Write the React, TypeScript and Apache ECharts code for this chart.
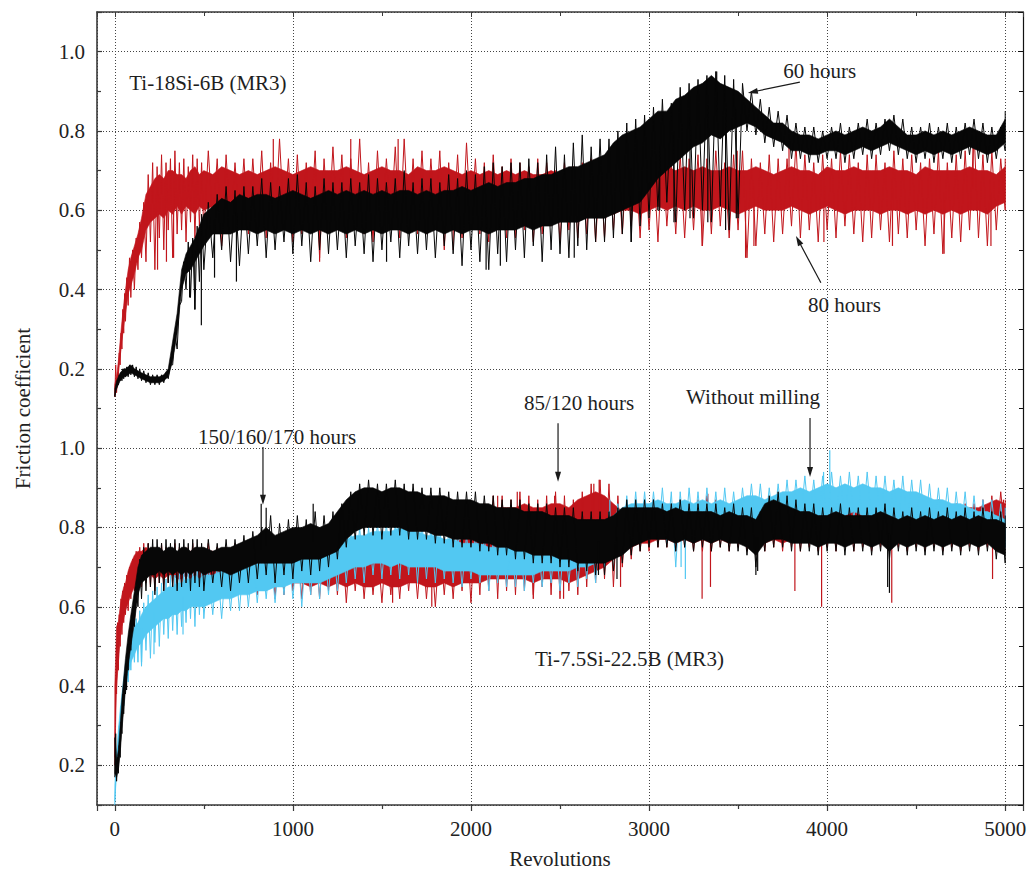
import React, { useEffect, useRef } from "react";
import * as echarts from "echarts";

// ---- sampling positions (revolutions) shared by every trace ----
const revs = [
  0, 10, 20, 30, 40, 50, 60, 75, 90, 110,
  130, 150, 175, 200, 225, 250, 275, 300, 325, 350,
  375, 400, 425, 450, 475, 500, 550, 600, 650, 700,
  750, 800, 850, 900, 950, 1000, 1050, 1100, 1150, 1200,
  1250, 1300, 1350, 1400, 1450, 1500, 1550, 1600, 1650, 1700,
  1750, 1800, 1850, 1900, 1950, 2000, 2050, 2100, 2150, 2200,
  2250, 2300, 2350, 2400, 2450, 2500, 2550, 2600, 2650, 2700,
  2750, 2800, 2850, 2900, 2950, 3000, 3050, 3100, 3150, 3200,
  3250, 3300, 3350, 3400, 3450, 3500, 3550, 3600, 3650, 3700,
  3750, 3800, 3850, 3900, 3950, 4000, 4050, 4100, 4150, 4200,
  4250, 4300, 4350, 4400, 4450, 4500, 4550, 4600, 4650, 4700,
  4750, 4800, 4850, 4900, 4950, 5000,
];

// ===== upper panel: Ti-18Si-6B (MR3) =====
// 80 hours (red): dense core (Low/High) and tips of the noise (Min/Max)
const topRedLow = [
  0.13, 0.15, 0.19, 0.23, 0.27, 0.31, 0.34, 0.39, 0.41, 0.44,
  0.48, 0.50, 0.55, 0.57, 0.58, 0.59, 0.58, 0.60, 0.59, 0.61,
  0.59, 0.61, 0.60, 0.59, 0.61, 0.60, 0.61, 0.59, 0.60, 0.60,
  0.60, 0.59, 0.61, 0.60, 0.59, 0.60, 0.61, 0.60, 0.59, 0.60,
  0.60, 0.59, 0.60, 0.61, 0.59, 0.60, 0.60, 0.59, 0.61, 0.60,
  0.59, 0.60, 0.60, 0.59, 0.61, 0.60, 0.59, 0.60, 0.60, 0.59,
  0.59, 0.60, 0.59, 0.60, 0.59, 0.60, 0.59, 0.60, 0.59, 0.60,
  0.59, 0.59, 0.60, 0.60, 0.59, 0.60, 0.61, 0.60, 0.61, 0.60,
  0.61, 0.60, 0.60, 0.61, 0.60, 0.59, 0.60, 0.61, 0.60, 0.60,
  0.60, 0.61, 0.60, 0.59, 0.60, 0.61, 0.60, 0.59, 0.60, 0.60,
  0.60, 0.59, 0.60, 0.60, 0.59, 0.60, 0.59, 0.60, 0.59, 0.60,
  0.59, 0.60, 0.60, 0.59, 0.61, 0.62,
];
const topRedHigh = [
  0.16, 0.18, 0.22, 0.27, 0.32, 0.36, 0.40, 0.45, 0.48, 0.51,
  0.54, 0.58, 0.64, 0.66, 0.68, 0.69, 0.68, 0.70, 0.70, 0.69,
  0.69, 0.68, 0.70, 0.71, 0.69, 0.70, 0.69, 0.71, 0.70, 0.69,
  0.70, 0.69, 0.70, 0.71, 0.70, 0.69, 0.70, 0.71, 0.70, 0.70,
  0.70, 0.71, 0.70, 0.69, 0.70, 0.71, 0.70, 0.70, 0.69, 0.71,
  0.70, 0.70, 0.71, 0.70, 0.69, 0.70, 0.69, 0.70, 0.69, 0.70,
  0.69, 0.70, 0.69, 0.69, 0.70, 0.69, 0.70, 0.69, 0.70, 0.69,
  0.69, 0.70, 0.70, 0.69, 0.70, 0.71, 0.70, 0.71, 0.70, 0.71,
  0.70, 0.71, 0.70, 0.70, 0.71, 0.70, 0.70, 0.71, 0.70, 0.69,
  0.70, 0.71, 0.70, 0.70, 0.69, 0.71, 0.70, 0.70, 0.71, 0.70,
  0.70, 0.70, 0.71, 0.70, 0.70, 0.69, 0.71, 0.70, 0.70, 0.70,
  0.70, 0.71, 0.70, 0.70, 0.69, 0.71,
];
const topRedMin = [
  0.13, 0.14, 0.18, 0.21, 0.25, 0.29, 0.32, 0.36, 0.38, 0.40,
  0.45, 0.48, 0.47, 0.52, 0.45, 0.53, 0.50, 0.55, 0.48, 0.54,
  0.55, 0.52, 0.57, 0.53, 0.56, 0.54, 0.57, 0.51, 0.55, 0.56,
  0.54, 0.56, 0.53, 0.55, 0.57, 0.52, 0.54, 0.56, 0.48, 0.55,
  0.55, 0.53, 0.56, 0.54, 0.52, 0.55, 0.57, 0.53, 0.55, 0.54,
  0.54, 0.56, 0.50, 0.55, 0.53, 0.56, 0.54, 0.52, 0.55, 0.53,
  0.53, 0.55, 0.52, 0.54, 0.56, 0.52, 0.55, 0.53, 0.54, 0.52,
  0.53, 0.55, 0.54, 0.56, 0.53, 0.55, 0.52, 0.56, 0.54, 0.53,
  0.55, 0.51, 0.54, 0.56, 0.53, 0.55, 0.48, 0.51, 0.54, 0.52,
  0.54, 0.56, 0.53, 0.55, 0.52, 0.55, 0.53, 0.56, 0.54, 0.52,
  0.53, 0.55, 0.52, 0.54, 0.53, 0.55, 0.51, 0.54, 0.49, 0.53,
  0.52, 0.55, 0.53, 0.51, 0.55, 0.60,
];
const topRedMax = [
  0.21, 0.19, 0.24, 0.29, 0.35, 0.39, 0.43, 0.48, 0.50, 0.53,
  0.57, 0.62, 0.69, 0.72, 0.71, 0.74, 0.72, 0.73, 0.75, 0.72,
  0.73, 0.71, 0.74, 0.73, 0.72, 0.75, 0.73, 0.74, 0.72, 0.73,
  0.73, 0.75, 0.72, 0.78, 0.73, 0.74, 0.72, 0.75, 0.73, 0.76,
  0.74, 0.73, 0.78, 0.72, 0.75, 0.73, 0.76, 0.78, 0.73, 0.75,
  0.73, 0.75, 0.72, 0.74, 0.77, 0.73, 0.72, 0.74, 0.71, 0.73,
  0.72, 0.71, 0.73, 0.72, 0.70, 0.72, 0.71, 0.72, 0.73, 0.71,
  0.72, 0.71, 0.73, 0.72, 0.74, 0.73, 0.75, 0.72, 0.74, 0.73,
  0.74, 0.73, 0.75, 0.72, 0.74, 0.75, 0.73, 0.72, 0.74, 0.73,
  0.73, 0.77, 0.74, 0.72, 0.74, 0.73, 0.75, 0.74, 0.72, 0.74,
  0.74, 0.72, 0.75, 0.73, 0.74, 0.72, 0.73, 0.75, 0.72, 0.74,
  0.75, 0.80, 0.74, 0.75, 0.73, 0.73,
];
const topRedSpikes = [
  [240, 0.45], [290, 0.47], [330, 0.48], [890, 0.78], [1150, 0.47], [1325, 0.78],
  [1591, 0.78], [1900, 0.5], [3298, 0.51], [3495, 0.75], [3542, 0.48], [3589, 0.51],
  [3786, 0.77], [3982, 0.52], [4367, 0.51], [4657, 0.49], [4820, 0.8], [4920, 0.51],
];

// 60 hours (black)
const topBlackLow = [
  0.13, 0.15, 0.16, 0.17, 0.175, 0.18, 0.18, 0.185, 0.19, 0.185,
  0.18, 0.175, 0.17, 0.165, 0.165, 0.165, 0.17, 0.18, 0.22, 0.29,
  0.40, 0.44, 0.45, 0.47, 0.49, 0.51, 0.54, 0.54, 0.54, 0.55,
  0.55, 0.54, 0.55, 0.54, 0.55, 0.54, 0.55, 0.54, 0.55, 0.54,
  0.55, 0.54, 0.55, 0.54, 0.55, 0.54, 0.55, 0.55, 0.54, 0.55,
  0.54, 0.55, 0.54, 0.55, 0.54, 0.55, 0.55, 0.54, 0.55, 0.55,
  0.55, 0.56, 0.55, 0.56, 0.56, 0.57, 0.57, 0.57, 0.58, 0.58,
  0.58, 0.59, 0.60, 0.61, 0.62, 0.65, 0.68, 0.70, 0.72, 0.74,
  0.76, 0.77, 0.79, 0.78, 0.80, 0.81, 0.82, 0.81, 0.79, 0.78,
  0.77, 0.75, 0.75, 0.74, 0.74, 0.75, 0.75, 0.74, 0.75, 0.76,
  0.75, 0.76, 0.77, 0.76, 0.75, 0.74, 0.75, 0.74, 0.75, 0.74,
  0.75, 0.76, 0.75, 0.74, 0.75, 0.77,
];
const topBlackHigh = [
  0.15, 0.17, 0.18, 0.19, 0.195, 0.20, 0.20, 0.205, 0.21, 0.20,
  0.195, 0.19, 0.185, 0.18, 0.18, 0.18, 0.185, 0.20, 0.27, 0.34,
  0.45, 0.49, 0.51, 0.53, 0.56, 0.59, 0.61, 0.63, 0.62, 0.64,
  0.63, 0.64, 0.64, 0.63, 0.64, 0.65, 0.64, 0.63, 0.64, 0.65,
  0.64, 0.65, 0.64, 0.65, 0.64, 0.65, 0.64, 0.65, 0.65, 0.64,
  0.65, 0.64, 0.65, 0.65, 0.66, 0.65, 0.66, 0.67, 0.66, 0.67,
  0.67, 0.68, 0.68, 0.69, 0.69, 0.70, 0.71, 0.71, 0.72, 0.73,
  0.74, 0.77, 0.79, 0.80, 0.81, 0.83, 0.85, 0.85, 0.88, 0.89,
  0.91, 0.92, 0.94, 0.92, 0.91, 0.90, 0.88, 0.86, 0.84, 0.82,
  0.82, 0.80, 0.79, 0.79, 0.78, 0.79, 0.80, 0.79, 0.80, 0.81,
  0.80, 0.81, 0.83, 0.81, 0.79, 0.79, 0.80, 0.79, 0.80, 0.79,
  0.80, 0.81, 0.80, 0.79, 0.79, 0.83,
];
const topBlackMin = [
  0.13, 0.15, 0.16, 0.17, 0.17, 0.175, 0.18, 0.18, 0.185, 0.18,
  0.175, 0.17, 0.165, 0.16, 0.16, 0.16, 0.165, 0.175, 0.21, 0.25,
  0.37, 0.40, 0.38, 0.35, 0.42, 0.45, 0.48, 0.50, 0.47, 0.46,
  0.49, 0.51, 0.48, 0.50, 0.52, 0.49, 0.51, 0.47, 0.50, 0.49,
  0.50, 0.48, 0.51, 0.49, 0.47, 0.50, 0.52, 0.48, 0.51, 0.49,
  0.50, 0.48, 0.51, 0.49, 0.46, 0.50, 0.47, 0.45, 0.49, 0.47,
  0.50, 0.48, 0.51, 0.47, 0.50, 0.49, 0.48, 0.51, 0.50, 0.52,
  0.52, 0.53, 0.54, 0.52, 0.56, 0.58, 0.60, 0.62, 0.57, 0.60,
  0.58, 0.60, 0.57, 0.61, 0.55, 0.58, 0.80, 0.79, 0.77, 0.76,
  0.75, 0.73, 0.73, 0.72, 0.72, 0.73, 0.73, 0.72, 0.73, 0.74,
  0.73, 0.74, 0.75, 0.74, 0.73, 0.72, 0.73, 0.72, 0.73, 0.72,
  0.73, 0.74, 0.73, 0.72, 0.73, 0.75,
];
const topBlackMax = [
  0.15, 0.17, 0.185, 0.19, 0.20, 0.20, 0.205, 0.21, 0.21, 0.205,
  0.20, 0.195, 0.19, 0.185, 0.185, 0.185, 0.19, 0.21, 0.29, 0.36,
  0.47, 0.52, 0.53, 0.56, 0.59, 0.62, 0.64, 0.66, 0.65, 0.66,
  0.66, 0.68, 0.67, 0.66, 0.68, 0.69, 0.67, 0.66, 0.68, 0.67,
  0.67, 0.68, 0.67, 0.69, 0.68, 0.67, 0.68, 0.70, 0.67, 0.68,
  0.68, 0.67, 0.69, 0.68, 0.70, 0.69, 0.71, 0.72, 0.71, 0.72,
  0.72, 0.73, 0.72, 0.74, 0.76, 0.74, 0.77, 0.79, 0.76, 0.78,
  0.78, 0.80, 0.82, 0.83, 0.84, 0.86, 0.88, 0.87, 0.91, 0.92,
  0.93, 0.94, 0.95, 0.94, 0.93, 0.92, 0.90, 0.88, 0.86, 0.85,
  0.84, 0.82, 0.81, 0.81, 0.80, 0.81, 0.82, 0.81, 0.82, 0.83,
  0.82, 0.83, 0.84, 0.83, 0.81, 0.81, 0.82, 0.81, 0.82, 0.81,
  0.82, 0.83, 0.82, 0.81, 0.81, 0.85,
];
const topBlackSpikes = [
  [420, 0.38], [449, 0.35], [486, 0.31], [560, 0.43], [683, 0.42], [1526, 0.47],
  [2085, 0.45], [2165, 0.46], [2580, 0.48], [2900, 0.52], [3060, 0.6], [3140, 0.57],
  [3230, 0.58], [3330, 0.57], [3380, 0.95], [3430, 0.55], [3490, 0.58],
];

// ===== lower panel: Ti-7.5Si-22.5B (MR3) =====
// 85/120 hours (red)
const botRedLow = [
  0.22, 0.40, 0.46, 0.52, 0.55, 0.57, 0.59, 0.61, 0.63, 0.65,
  0.66, 0.67, 0.68, 0.68, 0.67, 0.68, 0.67, 0.68, 0.68, 0.67,
  0.67, 0.68, 0.67, 0.68, 0.67, 0.68, 0.67, 0.68, 0.67, 0.68,
  0.67, 0.67, 0.66, 0.66, 0.66, 0.66, 0.66, 0.65, 0.66, 0.65,
  0.66, 0.65, 0.66, 0.65, 0.65, 0.66, 0.65, 0.65, 0.66, 0.66,
  0.65, 0.65, 0.66, 0.65, 0.66, 0.66, 0.66, 0.67, 0.67, 0.67,
  0.67, 0.67, 0.66, 0.67, 0.67, 0.67, 0.66, 0.67, 0.68, 0.69,
  0.70, 0.72, 0.74, 0.75, 0.76, 0.76, 0.77, 0.77, 0.76, 0.77,
  0.76, 0.77, 0.76, 0.77, 0.76, 0.77, 0.76, 0.75, 0.76, 0.77,
  0.76, 0.77, 0.76, 0.77, 0.76, 0.77, 0.76, 0.77, 0.76, 0.77,
  0.76, 0.77, 0.76, 0.77, 0.76, 0.77, 0.76, 0.77, 0.76, 0.77,
  0.76, 0.77, 0.76, 0.77, 0.78, 0.79,
];
const botRedHigh = [
  0.40, 0.55, 0.56, 0.60, 0.63, 0.65, 0.66, 0.69, 0.71, 0.73,
  0.74, 0.74, 0.75, 0.74, 0.74, 0.74, 0.73, 0.74, 0.74, 0.73,
  0.74, 0.73, 0.74, 0.73, 0.74, 0.74, 0.74, 0.73, 0.74, 0.75,
  0.74, 0.75, 0.76, 0.76, 0.76, 0.76, 0.76, 0.77, 0.76, 0.77,
  0.76, 0.75, 0.75, 0.75, 0.74, 0.75, 0.74, 0.75, 0.74, 0.75,
  0.74, 0.75, 0.75, 0.76, 0.77, 0.79, 0.82, 0.84, 0.85, 0.85,
  0.85, 0.86, 0.85, 0.85, 0.86, 0.86, 0.85, 0.87, 0.88, 0.89,
  0.88, 0.86, 0.84, 0.84, 0.85, 0.85, 0.85, 0.84, 0.85, 0.84,
  0.85, 0.86, 0.85, 0.84, 0.85, 0.84, 0.85, 0.84, 0.86, 0.85,
  0.84, 0.85, 0.84, 0.85, 0.84, 0.85, 0.84, 0.85, 0.84, 0.85,
  0.84, 0.85, 0.84, 0.85, 0.84, 0.85, 0.84, 0.85, 0.84, 0.85,
  0.84, 0.85, 0.85, 0.86, 0.87, 0.86,
];
const botRedMin = [
  0.20, 0.38, 0.44, 0.50, 0.53, 0.56, 0.58, 0.59, 0.62, 0.64,
  0.64, 0.65, 0.66, 0.65, 0.64, 0.66, 0.64, 0.66, 0.65, 0.64,
  0.64, 0.66, 0.65, 0.64, 0.66, 0.65, 0.64, 0.65, 0.64, 0.65,
  0.64, 0.63, 0.64, 0.62, 0.63, 0.64, 0.62, 0.63, 0.62, 0.64,
  0.63, 0.61, 0.64, 0.62, 0.63, 0.61, 0.63, 0.62, 0.64, 0.62,
  0.62, 0.60, 0.63, 0.62, 0.64, 0.61, 0.63, 0.64, 0.62, 0.64,
  0.63, 0.64, 0.62, 0.65, 0.63, 0.62, 0.64, 0.63, 0.65, 0.66,
  0.67, 0.65, 0.70, 0.72, 0.74, 0.74, 0.75, 0.75, 0.74, 0.75,
  0.74, 0.74, 0.74, 0.75, 0.74, 0.75, 0.74, 0.73, 0.74, 0.75,
  0.74, 0.75, 0.74, 0.75, 0.74, 0.75, 0.74, 0.75, 0.74, 0.75,
  0.74, 0.75, 0.74, 0.75, 0.74, 0.75, 0.74, 0.75, 0.74, 0.75,
  0.74, 0.75, 0.74, 0.75, 0.76, 0.77,
];
const botRedMax = [
  0.42, 0.56, 0.58, 0.62, 0.64, 0.66, 0.68, 0.70, 0.72, 0.74,
  0.75, 0.76, 0.76, 0.75, 0.75, 0.76, 0.75, 0.75, 0.76, 0.75,
  0.75, 0.75, 0.76, 0.75, 0.75, 0.76, 0.75, 0.75, 0.76, 0.76,
  0.76, 0.77, 0.78, 0.78, 0.78, 0.77, 0.78, 0.79, 0.78, 0.79,
  0.78, 0.77, 0.77, 0.76, 0.76, 0.77, 0.76, 0.77, 0.76, 0.77,
  0.76, 0.77, 0.77, 0.78, 0.80, 0.82, 0.86, 0.88, 0.88, 0.87,
  0.89, 0.88, 0.87, 0.88, 0.89, 0.88, 0.87, 0.89, 0.91, 0.92,
  0.91, 0.88, 0.86, 0.86, 0.86, 0.87, 0.86, 0.86, 0.87, 0.86,
  0.87, 0.88, 0.87, 0.86, 0.86, 0.86, 0.87, 0.86, 0.87, 0.87,
  0.86, 0.86, 0.86, 0.87, 0.86, 0.86, 0.86, 0.87, 0.86, 0.86,
  0.86, 0.86, 0.86, 0.87, 0.86, 0.86, 0.86, 0.87, 0.86, 0.86,
  0.86, 0.86, 0.87, 0.88, 0.89, 0.87,
];
const botRedSpikes = [
  [1560, 0.61], [1780, 0.6], [2150, 0.88], [2260, 0.89], [2350, 0.63], [2470, 0.88],
  [2520, 0.62], [2690, 0.91], [2720, 0.92], [2840, 0.65], [3298, 0.62], [3330, 0.885],
  [3345, 0.65], [3819, 0.64], [3969, 0.6], [4363, 0.61], [4929, 0.67], [4990, 0.87],
];

// Without milling (cyan)
const botCyanLow = [
  0.11, 0.18, 0.24, 0.28, 0.33, 0.36, 0.40, 0.43, 0.46, 0.48,
  0.50, 0.51, 0.53, 0.54, 0.55, 0.56, 0.57, 0.57, 0.58, 0.58,
  0.59, 0.59, 0.60, 0.60, 0.60, 0.60, 0.61, 0.62, 0.62, 0.63,
  0.63, 0.64, 0.64, 0.65, 0.65, 0.66, 0.66, 0.66, 0.66, 0.67,
  0.68, 0.69, 0.70, 0.70, 0.71, 0.71, 0.70, 0.71, 0.70, 0.70,
  0.70, 0.70, 0.69, 0.69, 0.69, 0.69, 0.68, 0.68, 0.68, 0.68,
  0.68, 0.68, 0.68, 0.69, 0.69, 0.69, 0.69, 0.70, 0.70, 0.71,
  0.73, 0.75, 0.77, 0.78, 0.78, 0.79, 0.79, 0.79, 0.78, 0.79,
  0.79, 0.79, 0.80, 0.79, 0.80, 0.80, 0.81, 0.81, 0.81, 0.82,
  0.82, 0.82, 0.83, 0.83, 0.83, 0.83, 0.84, 0.83, 0.84, 0.83,
  0.83, 0.83, 0.83, 0.82, 0.82, 0.82, 0.81, 0.81, 0.81, 0.80,
  0.80, 0.79, 0.79, 0.79, 0.78, 0.77,
];
const botCyanHigh = [
  0.15, 0.23, 0.29, 0.34, 0.38, 0.42, 0.46, 0.49, 0.52, 0.55,
  0.56, 0.58, 0.60, 0.61, 0.62, 0.63, 0.64, 0.65, 0.65, 0.66,
  0.66, 0.67, 0.67, 0.68, 0.67, 0.68, 0.68, 0.69, 0.69, 0.70,
  0.70, 0.71, 0.71, 0.72, 0.72, 0.73, 0.73, 0.74, 0.74, 0.75,
  0.76, 0.77, 0.78, 0.78, 0.79, 0.79, 0.79, 0.80, 0.79, 0.79,
  0.78, 0.78, 0.77, 0.77, 0.76, 0.76, 0.76, 0.75, 0.75, 0.75,
  0.75, 0.75, 0.75, 0.76, 0.76, 0.76, 0.76, 0.77, 0.77, 0.79,
  0.81, 0.83, 0.85, 0.86, 0.86, 0.86, 0.87, 0.86, 0.86, 0.87,
  0.86, 0.87, 0.86, 0.87, 0.86, 0.87, 0.88, 0.88, 0.87, 0.88,
  0.89, 0.89, 0.90, 0.89, 0.90, 0.91, 0.90, 0.91, 0.90, 0.91,
  0.90, 0.90, 0.89, 0.90, 0.89, 0.89, 0.88, 0.87, 0.87, 0.86,
  0.86, 0.85, 0.84, 0.84, 0.83, 0.82,
];
const botCyanMin = [
  0.10, 0.17, 0.23, 0.27, 0.32, 0.35, 0.38, 0.41, 0.44, 0.46,
  0.46, 0.45, 0.49, 0.47, 0.51, 0.50, 0.53, 0.52, 0.54, 0.53,
  0.55, 0.56, 0.57, 0.55, 0.58, 0.57, 0.58, 0.57, 0.59, 0.59,
  0.60, 0.61, 0.62, 0.61, 0.63, 0.62, 0.60, 0.63, 0.62, 0.63,
  0.64, 0.66, 0.67, 0.66, 0.68, 0.67, 0.68, 0.67, 0.68, 0.66,
  0.67, 0.66, 0.67, 0.66, 0.65, 0.67, 0.66, 0.64, 0.66, 0.65,
  0.65, 0.64, 0.66, 0.65, 0.66, 0.64, 0.66, 0.65, 0.67, 0.66,
  0.70, 0.72, 0.74, 0.75, 0.76, 0.77, 0.77, 0.76, 0.70, 0.76,
  0.77, 0.77, 0.78, 0.77, 0.78, 0.78, 0.79, 0.79, 0.79, 0.80,
  0.80, 0.80, 0.81, 0.81, 0.81, 0.81, 0.82, 0.81, 0.82, 0.81,
  0.81, 0.81, 0.81, 0.80, 0.80, 0.80, 0.79, 0.79, 0.79, 0.78,
  0.78, 0.77, 0.77, 0.77, 0.76, 0.75,
];
const botCyanMax = [
  0.16, 0.24, 0.30, 0.35, 0.39, 0.43, 0.47, 0.51, 0.54, 0.57,
  0.59, 0.61, 0.63, 0.64, 0.65, 0.66, 0.67, 0.68, 0.68, 0.69,
  0.69, 0.70, 0.70, 0.71, 0.70, 0.71, 0.71, 0.72, 0.72, 0.73,
  0.73, 0.74, 0.74, 0.75, 0.75, 0.76, 0.76, 0.77, 0.77, 0.78,
  0.78, 0.79, 0.80, 0.80, 0.81, 0.81, 0.81, 0.82, 0.81, 0.81,
  0.80, 0.80, 0.79, 0.79, 0.78, 0.78, 0.78, 0.77, 0.77, 0.77,
  0.77, 0.77, 0.78, 0.78, 0.78, 0.78, 0.79, 0.79, 0.80, 0.82,
  0.84, 0.86, 0.88, 0.89, 0.89, 0.89, 0.90, 0.89, 0.89, 0.90,
  0.89, 0.90, 0.89, 0.90, 0.89, 0.90, 0.91, 0.91, 0.90, 0.91,
  0.92, 0.92, 0.93, 0.92, 0.93, 0.94, 0.93, 0.94, 0.93, 0.94,
  0.93, 0.93, 0.92, 0.93, 0.92, 0.92, 0.91, 0.90, 0.90, 0.89,
  0.89, 0.88, 0.87, 0.87, 0.86, 0.85,
];
const botCyanSpikes = [
  [150, 0.46], [220, 0.48], [383, 0.53], [2780, 0.87], [3180, 0.7], [3204, 0.67],
  [3980, 0.94], [4015, 0.995],
];

// 150/160/170 hours (black)
const botBlackLow = [
  0.18, 0.17, 0.19, 0.23, 0.29, 0.34, 0.39, 0.45, 0.50, 0.56,
  0.63, 0.66, 0.67, 0.68, 0.68, 0.69, 0.68, 0.69, 0.68, 0.69,
  0.68, 0.69, 0.68, 0.69, 0.69, 0.68, 0.69, 0.69, 0.68, 0.69,
  0.70, 0.71, 0.71, 0.71, 0.71, 0.71, 0.72, 0.72, 0.72, 0.73,
  0.74, 0.77, 0.79, 0.80, 0.80, 0.80, 0.80, 0.80, 0.79, 0.79,
  0.79, 0.78, 0.78, 0.77, 0.77, 0.77, 0.76, 0.76, 0.75, 0.75,
  0.74, 0.74, 0.73, 0.73, 0.73, 0.72, 0.72, 0.71, 0.71, 0.71,
  0.71, 0.72, 0.73, 0.75, 0.76, 0.77, 0.77, 0.77, 0.76, 0.77,
  0.76, 0.77, 0.76, 0.77, 0.76, 0.76, 0.75, 0.73, 0.76, 0.77,
  0.77, 0.76, 0.76, 0.76, 0.75, 0.76, 0.76, 0.75, 0.76, 0.76,
  0.75, 0.76, 0.74, 0.76, 0.75, 0.76, 0.75, 0.76, 0.75, 0.76,
  0.75, 0.76, 0.75, 0.76, 0.74, 0.73,
];
const botBlackHigh = [
  0.27, 0.21, 0.24, 0.30, 0.37, 0.42, 0.47, 0.53, 0.58, 0.64,
  0.70, 0.73, 0.74, 0.75, 0.75, 0.75, 0.74, 0.75, 0.75, 0.74,
  0.75, 0.75, 0.74, 0.75, 0.75, 0.75, 0.74, 0.75, 0.75, 0.76,
  0.77, 0.78, 0.80, 0.78, 0.79, 0.80, 0.80, 0.81, 0.80, 0.81,
  0.84, 0.87, 0.89, 0.90, 0.90, 0.89, 0.90, 0.90, 0.89, 0.89,
  0.88, 0.88, 0.88, 0.87, 0.87, 0.87, 0.86, 0.86, 0.85, 0.85,
  0.85, 0.84, 0.84, 0.84, 0.83, 0.83, 0.83, 0.82, 0.82, 0.82,
  0.82, 0.83, 0.85, 0.85, 0.85, 0.85, 0.85, 0.84, 0.85, 0.84,
  0.84, 0.84, 0.84, 0.83, 0.84, 0.83, 0.83, 0.82, 0.86, 0.87,
  0.86, 0.85, 0.84, 0.84, 0.83, 0.83, 0.84, 0.83, 0.83, 0.83,
  0.83, 0.84, 0.83, 0.82, 0.83, 0.82, 0.83, 0.82, 0.83, 0.82,
  0.83, 0.82, 0.83, 0.82, 0.82, 0.81,
];
const botBlackMin = [
  0.17, 0.16, 0.18, 0.22, 0.28, 0.33, 0.38, 0.44, 0.49, 0.55,
  0.60, 0.62, 0.64, 0.65, 0.63, 0.66, 0.64, 0.66, 0.65, 0.64,
  0.65, 0.66, 0.64, 0.66, 0.65, 0.64, 0.66, 0.65, 0.64, 0.66,
  0.66, 0.67, 0.68, 0.66, 0.68, 0.67, 0.69, 0.68, 0.69, 0.70,
  0.72, 0.75, 0.77, 0.78, 0.78, 0.77, 0.78, 0.78, 0.77, 0.77,
  0.77, 0.76, 0.76, 0.75, 0.75, 0.75, 0.74, 0.74, 0.73, 0.73,
  0.72, 0.72, 0.71, 0.71, 0.71, 0.70, 0.70, 0.69, 0.69, 0.68,
  0.68, 0.69, 0.71, 0.73, 0.74, 0.75, 0.75, 0.75, 0.74, 0.75,
  0.74, 0.75, 0.74, 0.75, 0.74, 0.74, 0.73, 0.70, 0.74, 0.75,
  0.75, 0.74, 0.74, 0.74, 0.73, 0.74, 0.74, 0.73, 0.74, 0.74,
  0.73, 0.74, 0.72, 0.74, 0.73, 0.74, 0.73, 0.74, 0.73, 0.74,
  0.73, 0.74, 0.73, 0.74, 0.72, 0.71,
];
const botBlackMax = [
  0.28, 0.22, 0.25, 0.31, 0.38, 0.43, 0.48, 0.54, 0.59, 0.65,
  0.72, 0.75, 0.76, 0.77, 0.77, 0.76, 0.77, 0.76, 0.77, 0.76,
  0.77, 0.76, 0.77, 0.77, 0.76, 0.77, 0.76, 0.77, 0.77, 0.78,
  0.79, 0.80, 0.83, 0.81, 0.82, 0.83, 0.82, 0.84, 0.83, 0.84,
  0.86, 0.89, 0.91, 0.92, 0.91, 0.91, 0.92, 0.91, 0.91, 0.90,
  0.90, 0.90, 0.89, 0.89, 0.89, 0.89, 0.88, 0.88, 0.87, 0.87,
  0.87, 0.86, 0.86, 0.86, 0.85, 0.85, 0.85, 0.84, 0.84, 0.84,
  0.84, 0.85, 0.87, 0.87, 0.87, 0.87, 0.86, 0.86, 0.87, 0.86,
  0.86, 0.86, 0.86, 0.85, 0.86, 0.85, 0.85, 0.84, 0.88, 0.89,
  0.88, 0.87, 0.86, 0.86, 0.85, 0.85, 0.86, 0.85, 0.85, 0.85,
  0.85, 0.86, 0.85, 0.84, 0.85, 0.84, 0.85, 0.84, 0.85, 0.84,
  0.85, 0.84, 0.85, 0.84, 0.84, 0.83,
];
const botBlackSpikes = [
  [66, 0.39], [822, 0.86], [850, 0.85], [1114, 0.86], [2716, 0.68], [2820, 0.67],
  [3600, 0.68], [3610, 0.69], [4340, 0.65], [4350, 0.635],
];

// The upper panel is drawn 1.0 above the lower one on a shared vertical axis.
const TOP_OFFSET = 1.0;

// ---- annotations (revolutions, shared-axis value) ----
const noteTexts = [
  "Ti-18Si-6B (MR3)", "60 hours", "80 hours", "Without milling",
  "85/120 hours", "150/160/170 hours", "Ti-7.5Si-22.5B (MR3)",
];
const noteRevs = [523, 3959, 4098, 3584, 2607, 911, 2890];
const noteVals = [1.921, 1.951, 1.361, 1.129, 1.114, 1.028, 0.468];

const arrowFrom = [[3847, 1.923], [3965, 1.417], [832, 1.003], [2489, 1.063], [3904, 1.076]];
const arrowTo = [[3555, 1.896], [3825, 1.535], [832, 0.857], [2489, 0.915], [3904, 0.927]];

const RED = "#c1161c";
const BLACK = "#070707";
const CYAN = "#52c8f2";
const FONT = "Liberation Serif";

function nearestIndex(r: number): number {
  let best = 0;
  for (let i = 1; i < revs.length; i++) {
    if (Math.abs(revs[i] - r) < Math.abs(revs[best] - r)) best = i;
  }
  return best;
}

function bandSeries(lo: number[], hi: number[], off: number, color: string, z: number): any {
  const pts: number[][] = [];
  for (let i = 0; i < revs.length; i++) pts.push([revs[i], hi[i] + off]);
  for (let i = revs.length - 1; i >= 0; i--) pts.push([revs[i], lo[i] + off]);
  return {
    type: "custom",
    xAxisIndex: 0,
    yAxisIndex: 0,
    silent: true,
    z,
    data: [[revs[0], lo[0] + off]],
    renderItem: (_p: any, api: any) => ({
      type: "polygon",
      shape: { points: pts.map((p) => api.coord(p)) },
      style: { fill: color, stroke: color, lineWidth: 0.6 },
    }),
  };
}

// zig-zag between the noise tips: one low tip at each sample, one high tip halfway to the next
function hairSeries(mn: number[], mx: number[], off: number, color: string, z: number): any {
  const data: number[][] = [];
  for (let i = 0; i < revs.length; i++) {
    const next = i + 1 < revs.length ? revs[i + 1] : revs[i];
    data.push([revs[i], mn[i] + off]);
    data.push([(revs[i] + next) / 2, mx[i] + off]);
  }
  return {
    type: "line",
    xAxisIndex: 0,
    yAxisIndex: 0,
    silent: true,
    z,
    data,
    showSymbol: false,
    symbol: "none",
    sampling: undefined,
    lineStyle: { color, width: 1 },
  };
}

function spikeSeries(spikes: number[][], lo: number[], hi: number[], off: number, color: string, z: number): any {
  const data = spikes.map(([r, v]) => {
    const k = nearestIndex(r);
    return [r, v + off, (lo[k] + hi[k]) / 2 + off];
  });
  return {
    type: "custom",
    xAxisIndex: 0,
    yAxisIndex: 0,
    silent: true,
    z,
    encode: { x: 0, y: [1, 2] },
    data,
    renderItem: (_p: any, api: any) => {
      const a = api.coord([api.value(0), api.value(1)]);
      const b = api.coord([api.value(0), api.value(2)]);
      return {
        type: "line",
        shape: { x1: a[0], y1: a[1], x2: b[0], y2: b[1] },
        style: { stroke: color, lineWidth: 1.2 },
      };
    },
  };
}

function trace(lo: number[], hi: number[], mn: number[], mx: number[], spikes: number[][], off: number, color: string, z: number): any[] {
  return [
    bandSeries(lo, hi, off, color, z),
    hairSeries(mn, mx, off, color, z),
    spikeSeries(spikes, lo, hi, off, color, z),
  ];
}

const fmtX = (v: number) => (Math.abs(v % 1000) < 1e-6 && v >= 0 && v <= 5000 ? String(v) : "");
const fmtY = (v: number) => {
  const r = Math.round(v * 10);
  if (r % 2 !== 0 || r <= 1 || r >= 21) return "";
  const t = v > 1.05 ? v - TOP_OFFSET : v;
  return t.toFixed(1);
};

const axisColor = "#3a3a3a";
const labelStyle = { fontFamily: FONT, fontSize: 21, color: "#222" };

export default function App() {
  const ref = useRef<HTMLDivElement>(null);
  useEffect(() => {
    if (!ref.current) return;
    const chart = echarts.init(ref.current, undefined, { renderer: "svg" });
    const xBase = {
      type: "value",
      min: -100,
      max: 5100,
      splitNumber: 5,
      minInterval: 1000,
      maxInterval: 1000,
    };
    const yBase = {
      type: "value",
      min: 0.1,
      max: 2.1,
      splitNumber: 10,
      minInterval: 0.2,
      maxInterval: 0.2,
    };
    const option: any = {
      animation: false,
      backgroundColor: "#ffffff",
      grid: { left: 97, right: 5, top: 12, bottom: 64, containLabel: false, outerBoundsMode: "none" },
      xAxis: [
        {
          ...xBase,
          position: "bottom",
          name: "Revolutions",
          nameLocation: "middle",
          nameGap: 43,
          nameTextStyle: labelStyle,
          axisLine: { show: true, onZero: false, lineStyle: { color: axisColor, width: 1.6 } },
          axisTick: { show: true, inside: false, length: 6, lineStyle: { color: axisColor, width: 1.2 } },
          minorTick: { show: true, splitNumber: 2, length: 4, lineStyle: { color: axisColor, width: 1.2 } },
          axisLabel: { ...labelStyle, formatter: fmtX, margin: 13 },
          splitLine: { show: true, lineStyle: { color: "#444", width: 1, type: [1, 2] } },
        },
        {
          ...xBase,
          position: "top",
          axisLine: { show: true, onZero: false, lineStyle: { color: axisColor, width: 1.6 } },
          axisTick: { show: true, inside: true, length: 5, lineStyle: { color: axisColor } },
          minorTick: { show: true, splitNumber: 2, length: 4, lineStyle: { color: axisColor } },
          axisLabel: { show: false },
          splitLine: { show: false },
        },
      ],
      yAxis: [
        {
          ...yBase,
          position: "left",
          name: "Friction coefficient",
          nameLocation: "middle",
          nameGap: 64,
          nameRotate: 90,
          nameTextStyle: labelStyle,
          axisLine: { show: true, onZero: false, lineStyle: { color: axisColor, width: 1.6 } },
          axisTick: { show: true, inside: true, length: 5, lineStyle: { color: axisColor, width: 1.2 } },
          minorTick: { show: true, splitNumber: 2, length: 4, lineStyle: { color: axisColor, width: 1.2 } },
          axisLabel: { ...labelStyle, formatter: fmtY, margin: 12 },
          splitLine: { show: true, lineStyle: { color: "#444", width: 1, type: [1, 2] } },
        },
        {
          ...yBase,
          position: "right",
          axisLine: { show: true, onZero: false, lineStyle: { color: "#111", width: 1.2 } },
          axisTick: { show: true, inside: true, length: 5, lineStyle: { color: "#111" } },
          minorTick: { show: true, splitNumber: 2, length: 4, lineStyle: { color: "#111" } },
          axisLabel: { show: false },
          splitLine: { show: false },
        },
      ],
      series: [
        ...trace(topRedLow, topRedHigh, topRedMin, topRedMax, topRedSpikes, TOP_OFFSET, RED, 3),
        ...trace(topBlackLow, topBlackHigh, topBlackMin, topBlackMax, topBlackSpikes, TOP_OFFSET, BLACK, 4),
        ...trace(botRedLow, botRedHigh, botRedMin, botRedMax, botRedSpikes, 0, RED, 3),
        ...trace(botCyanLow, botCyanHigh, botCyanMin, botCyanMax, botCyanSpikes, 0, CYAN, 4),
        ...trace(botBlackLow, botBlackHigh, botBlackMin, botBlackMax, botBlackSpikes, 0, BLACK, 5),
      ],
    };
    chart.setOption(option);

    const toPx = (p: number[]) => chart.convertToPixel({ gridIndex: 0 } as any, p) as number[];
    const graphics: any[] = [];
    noteTexts.forEach((t, i) => {
      const [x, y] = toPx([noteRevs[i], noteVals[i]]);
      graphics.push({
        type: "text",
        x,
        y,
        silent: true,
        z: 100,
        style: {
          text: t,
          fontFamily: FONT,
          fontSize: 21,
          fill: "#1e1e1e",
          align: "center",
          verticalAlign: "middle",
        },
      });
    });
    arrowFrom.forEach((f, i) => {
      const a = toPx(f);
      const b = toPx(arrowTo[i]);
      const dx = b[0] - a[0];
      const dy = b[1] - a[1];
      const len = Math.sqrt(dx * dx + dy * dy) || 1;
      const ux = dx / len;
      const uy = dy / len;
      const L = 10;
      const W = 3;
      const bx = b[0] - ux * L;
      const by = b[1] - uy * L;
      graphics.push({
        type: "line",
        silent: true,
        z: 100,
        shape: { x1: a[0], y1: a[1], x2: bx + ux * 2, y2: by + uy * 2 },
        style: { stroke: "#1a1a1a", lineWidth: 1.2 },
      });
      graphics.push({
        type: "polygon",
        silent: true,
        z: 100,
        shape: {
          points: [
            [b[0], b[1]],
            [bx - uy * W, by + ux * W],
            [bx + uy * W, by - ux * W],
          ],
        },
        style: { fill: "#1a1a1a" },
      });
    });
    chart.setOption({ graphic: graphics });

    return () => chart.dispose();
  }, []);
  return (
    <div
      ref={ref}
      style={{ position: "fixed", left: 0, top: 0, width: 1028, height: 869, background: "#fff" }}
    />
  );
}
